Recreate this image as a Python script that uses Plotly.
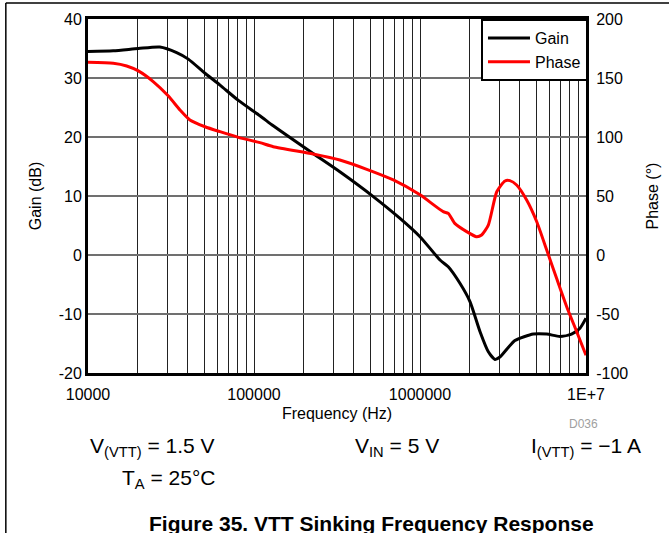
import plotly.graph_objects as go

# Gain curve (dB) versus frequency (Hz)
gain_freq = [10000, 14200, 20100, 27100, 34200, 40200, 50700, 62400, 80500, 108600,
             130600, 227000, 329000, 523000, 758000, 1000000, 1320000, 1480000,
             1740000, 2000000, 2300000, 2580000, 2830000, 3030000, 3730000,
             4820000, 5800000, 6970000, 8180000, 9200000, 10000000]
gain_db = [34.5, 34.6, 35.0, 35.25, 34.3, 33.2, 30.8, 28.8, 26.2, 23.6,
           21.9, 17.2, 14.1, 9.9, 6.2, 3.1, -0.85, -2.0,
           -4.8, -7.9, -13.0, -16.4, -17.7, -17.3, -14.5,
           -13.4, -13.4, -13.8, -13.4, -12.4, -10.7]

# Phase curve (degrees) versus frequency (Hz)
phase_freq = [10000, 14200, 17100, 20100, 24700, 30500, 35800, 41100, 50700, 62400,
              80500, 108600, 130600, 227000, 329000, 478000, 691000, 1000000,
              1380000, 1480000, 1620000, 1910000, 2190000, 2350000, 2580000,
              2900000, 3250000, 3480000, 3820000, 4390000, 5050000, 5800000,
              6650000, 7650000, 8790000, 10000000]
phase_deg = [163.3, 162.5, 160.2, 156, 147, 134.7, 122.9, 114.4, 108.7, 104.5,
             99.7, 95.2, 91.8, 85.6, 80.5, 72.6, 63.6, 51.0,
             36.7, 35.3, 26.8, 19.8, 15.5, 17, 25.4,
             53.6, 62.7, 63, 59.3, 46.6, 28.2, 4.2,
             -19.8, -43.8, -65, -85]

# Axis ticks
gain_ticks = [-20, -10, 0, 10, 20, 30, 40]
gain_text = ["-20", "-10", "0", "10", "20", "30", "40"]
phase_ticks = [-100, -50, 0, 50, 100, 150, 200]
phase_text = ["-100", "-50", "0", "50", "100", "150", "200"]
decade_labels = {10000: "10000", 100000: "100000", 1000000: "1000000", 10000000: "1E+7"}

freq_ticks = []
freq_text = []
for dec in [10000, 100000, 1000000]:
    for m in range(1, 10):
        v = dec * m
        freq_ticks.append(v)
        freq_text.append(decade_labels.get(v, ""))
freq_ticks.append(10000000)
freq_text.append(decade_labels[10000000])

FONT = "Liberation Sans, Arial, sans-serif"

fig = go.Figure()
fig.add_trace(go.Scatter(
    x=gain_freq, y=gain_db, name="Gain", mode="lines",
    line=dict(color="black", width=3, shape="spline", smoothing=0.6),
    yaxis="y",
))
fig.add_trace(go.Scatter(
    x=phase_freq, y=phase_deg, name="Phase", mode="lines",
    line=dict(color="#ff0000", width=3, shape="spline", smoothing=0.6),
    yaxis="y2",
))

fig.update_layout(
    width=669, height=533,
    margin=dict(l=88, r=83, t=19, b=160, autoexpand=False),
    paper_bgcolor="white", plot_bgcolor="white",
    font=dict(family=FONT, size=16, color="black"),
    showlegend=True,
    legend=dict(
        x=1.004, y=1.0, xanchor="right", yanchor="top",
        bgcolor="white", bordercolor="black", borderwidth=2,
        font=dict(size=16), tracegroupgap=0, itemwidth=42,
    ),
    xaxis=dict(
        type="log", range=[4, 7],
        tickmode="array", tickvals=freq_ticks, ticktext=freq_text,
        showgrid=True, gridcolor="#222222", gridwidth=1,
        showline=True, linecolor="black", linewidth=3, mirror=True,
        ticks="", zeroline=False, ticklabelstandoff=5,
        title=dict(text="Frequency (Hz)", standoff=6, font=dict(size=16)),
        tickfont=dict(size=16),
    ),
    yaxis=dict(
        range=[-20, 40], tickmode="array", tickvals=gain_ticks, ticktext=gain_text,
        showgrid=True, gridcolor="#707070", gridwidth=2,
        showline=True, linecolor="black", linewidth=3, mirror=True,
        ticks="", zeroline=False,
        title=dict(text="Gain (dB)", standoff=14, font=dict(size=16)),
        tickfont=dict(size=16),
    ),
    yaxis2=dict(
        range=[-100, 200], tickmode="array", tickvals=phase_ticks, ticktext=phase_text,
        overlaying="y", side="right", showgrid=False,
        showline=True, linecolor="black", linewidth=3,
        ticks="", zeroline=False, ticklabelstandoff=4,
        title=dict(text="Phase (°)", standoff=20, font=dict(size=16)),
        tickfont=dict(size=16),
    ),
)

# Page frame lines (top and left)
fig.add_shape(type="line", xref="paper", yref="paper",
              x0=-0.165, x1=1.2, y0=1.045, y1=1.045,
              line=dict(color="black", width=1.5))
fig.add_shape(type="line", xref="paper", yref="paper",
              x0=-0.165, x1=-0.165, y0=1.045, y1=-0.5,
              line=dict(color="black", width=1.5))

def note(text, x, y, size=21, color="black", bold=False, anchor="left"):
    fig.add_annotation(
        text=f"<b>{text}</b>" if bold else text,
        xref="paper", yref="paper", x=x, y=y,
        xanchor=anchor, yanchor="middle", showarrow=False,
        font=dict(family=FONT, size=size, color=color),
    )

def px_x(px):
    return (px - 88) / 498

def px_y(py):
    return (373 - py) / 354

note("D036", px_x(583), px_y(424), size=12, color="#a0a0a0", anchor="center")
note("V<sub>(VTT)</sub> = 1.5 V", px_x(88), px_y(447))
note("V<sub>IN</sub> = 5 V", px_x(353), px_y(447))
note("I<sub>(VTT)</sub> = −1 A", px_x(529), px_y(447))
note("T<sub>A</sub> = 25°C", px_x(120), px_y(479))
note("Figure 35. VTT Sinking Frequency Response", px_x(371), px_y(523),
     size=21, bold=True, anchor="center")

fig.write_html("out.html")
